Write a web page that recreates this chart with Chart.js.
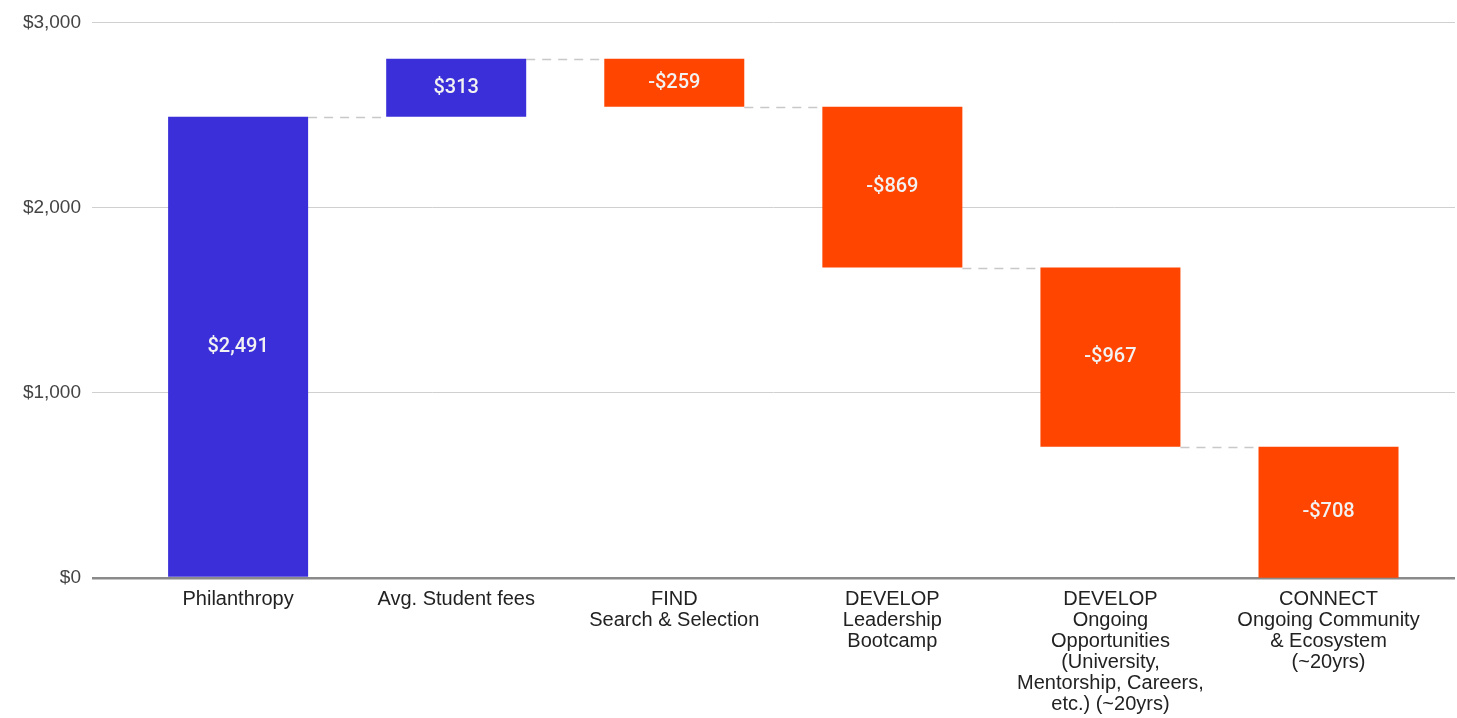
<!DOCTYPE html>
<html>
<head>
<meta charset="utf-8">
<script src="https://cdn.jsdelivr.net/npm/chart.js@4/dist/chart.umd.min.js"></script>
<style>
  html, body { margin: 0; padding: 0; background: #ffffff; }
  #wrap { width: 1457px; height: 718px; position: relative; }
</style>
</head>
<body>
<div id="wrap"><canvas id="c" width="1457" height="718"></canvas></div>
<script>
// ---- data ----
const categories = [
  ['Philanthropy'],
  ['Avg. Student fees'],
  ['FIND', 'Search & Selection'],
  ['DEVELOP', 'Leadership', 'Bootcamp'],
  ['DEVELOP', 'Ongoing', 'Opportunities', '(University,', 'Mentorship, Careers,', 'etc.) (~20yrs)'],
  ['CONNECT', 'Ongoing Community', '& Ecosystem', '(~20yrs)']
];
const changes = [2491, 313, -259, -869, -967, -708];
const yTicks = [0, 1000, 2000, 3000];

const BLUE = '#3a2fd8';
const ORANGE = '#ff4500';

// floating bars built from the cumulative running total
const floating = [];
let running = 0;
changes.forEach((d, i) => {
  const start = running;
  running += d;
  floating.push({ x: i, y: [start, running] });
});

function money(v) {
  const s = '$' + Math.abs(v).toLocaleString('en-US');
  return v < 0 ? '-' + s : s;
}

const connectorPlugin = {
  id: 'connectors',
  beforeDatasetsDraw(chart) {
    const meta = chart.getDatasetMeta(0);
    const yS = chart.scales.y;
    const ctx = chart.ctx;
    ctx.save();
    ctx.strokeStyle = '#c8c8c8';
    ctx.lineWidth = 1.5;
    ctx.setLineDash([9, 7]);
    for (let i = 0; i < meta.data.length - 1; i++) {
      const a = meta.data[i], b = meta.data[i + 1];
      const level = floating[i].y[1];
      const y = Math.round(yS.getPixelForValue(level)) + 0.5;
      ctx.beginPath();
      ctx.moveTo(a.x + a.width / 2, y);
      ctx.lineTo(b.x - b.width / 2, y);
      ctx.stroke();
    }
    ctx.restore();
  }
};

const labelPlugin = {
  id: 'barLabels',
  afterDatasetsDraw(chart) {
    const meta = chart.getDatasetMeta(0);
    const ctx = chart.ctx;
    ctx.save();
    ctx.fillStyle = '#f2f2f2';
    ctx.font = '500 20px Roboto';
    ctx.textAlign = 'center';
    ctx.textBaseline = 'middle';
    meta.data.forEach((el, i) => {
      const cy = (el.y + el.base) / 2;
      ctx.fillText(money(changes[i]), el.x, cy);
    });
    ctx.restore();
  }
};

new Chart(document.getElementById('c'), {
  type: 'bar',
  data: {
    datasets: [{
      data: floating,
      backgroundColor: changes.map(v => v >= 0 ? BLUE : ORANGE),
      borderWidth: 0,
      barPercentage: 0.642,
      categoryPercentage: 1.0,
      grouped: false
    }]
  },
  options: {
    responsive: false,
    devicePixelRatio: 1,
    animation: false,
    layout: { padding: { top: 16, right: 2, left: 0, bottom: 0 } },
    plugins: {
      legend: { display: false },
      tooltip: { enabled: false }
    },
    scales: {
      x: {
        type: 'linear',
        offset: false,
        min: -0.67,
        max: 5.58,
        afterBuildTicks: s => { s.ticks = categories.map((c, i) => ({ value: i })); },
        afterFit: s => { s.height = 140; },
        grid: { display: false, drawTicks: false, offset: false },
        border: { display: false },
        ticks: {
          autoSkip: false,
          maxRotation: 0,
          minRotation: 0,
          padding: 11,
          color: '#222222',
          font: { family: '"Liberation Sans", Arial, sans-serif', size: 20, lineHeight: 1.05 },
          callback: (v) => categories[Math.round(v)] || ''
        }
      },
      y: {
        min: 0,
        max: 3000,
        afterBuildTicks: s => { s.ticks = yTicks.map(v => ({ value: v })); },
        afterFit: s => { s.width = 92; },
        border: { display: false },
        grid: {
          drawTicks: false,
          color: ctx => ctx.tick && ctx.tick.value === 0 ? '#8a8a8a' : '#d0d0d0',
          lineWidth: ctx => ctx.tick && ctx.tick.value === 0 ? 2.5 : 1
        },
        ticks: {
          padding: 11,
          color: '#444444',
          font: { family: '"Liberation Sans", Arial, sans-serif', size: 19 },
          callback: v => money(v)
        }
      }
    }
  },
  plugins: [connectorPlugin, labelPlugin]
});
</script>
</body>
</html>
